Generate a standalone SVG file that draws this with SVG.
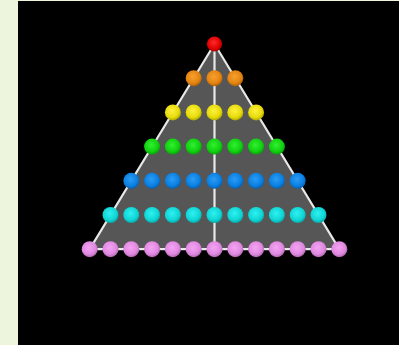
<svg xmlns="http://www.w3.org/2000/svg" width="399" height="345" viewBox="0 0 399 345">
<defs>
<radialGradient id="gR" cx="45%" cy="40%" r="60%"><stop offset="0" stop-color="#ff2a2a"/><stop offset="0.7" stop-color="#e00000"/><stop offset="1" stop-color="#a00000"/></radialGradient>
<radialGradient id="gO" cx="45%" cy="40%" r="60%"><stop offset="0" stop-color="#f8a030"/><stop offset="0.7" stop-color="#e48410"/><stop offset="1" stop-color="#b06008"/></radialGradient>
<radialGradient id="gY" cx="45%" cy="40%" r="60%"><stop offset="0" stop-color="#fff040"/><stop offset="0.7" stop-color="#e6dc0a"/><stop offset="1" stop-color="#b0a800"/></radialGradient>
<radialGradient id="gG" cx="45%" cy="40%" r="60%"><stop offset="0" stop-color="#30f030"/><stop offset="0.7" stop-color="#10d010"/><stop offset="1" stop-color="#08a008"/></radialGradient>
<radialGradient id="gB" cx="45%" cy="40%" r="60%"><stop offset="0" stop-color="#2c9cf4"/><stop offset="0.7" stop-color="#0a80e2"/><stop offset="1" stop-color="#0860b0"/></radialGradient>
<radialGradient id="gC" cx="45%" cy="40%" r="60%"><stop offset="0" stop-color="#30f0f0"/><stop offset="0.7" stop-color="#10d6d6"/><stop offset="1" stop-color="#08a8a8"/></radialGradient>
<radialGradient id="gP" cx="45%" cy="40%" r="60%"><stop offset="0" stop-color="#f4a4f4"/><stop offset="0.7" stop-color="#e088e0"/><stop offset="1" stop-color="#b068b0"/></radialGradient>
</defs>
<style>
.r0 circle{fill:url(#gR)}
.r1 circle{fill:url(#gO)}
.r2 circle{fill:url(#gY)}
.r3 circle{fill:url(#gG)}
.r4 circle{fill:url(#gB)}
.r5 circle{fill:url(#gC)}
.r6 circle{fill:url(#gP)}
.edge{stroke:#e8e8e8;stroke-width:2.2;fill:none}
</style>
<rect x="0" y="0" width="399" height="345" fill="#eef5dd"/>
<rect x="18" y="1" width="381" height="344" fill="#000"/>
<g id="connectors">
<polygon points="214.5,44 89.7,249.2 339.3,249.2" fill="#565656"/>
<polygon class="edge" points="214.5,44 89.7,249.2 339.3,249.2"/>
<line class="edge" x1="214.5" y1="44" x2="214.5" y2="249.2"/>
</g>
<g id="row0" class="r0"><circle cx="214.5" cy="44" r="7.6"/></g>
<g id="row1" class="r1">
<circle cx="193.7" cy="78.2" r="8"/><circle cx="214.5" cy="78.2" r="8"/><circle cx="235.3" cy="78.2" r="8"/>
</g>
<g id="row2" class="r2">
<circle cx="172.9" cy="112.4" r="8"/><circle cx="193.7" cy="112.4" r="8"/><circle cx="214.5" cy="112.4" r="8"/><circle cx="235.3" cy="112.4" r="8"/><circle cx="256.1" cy="112.4" r="8"/>
</g>
<g id="row3" class="r3">
<circle cx="152.1" cy="146.6" r="8"/><circle cx="172.9" cy="146.6" r="8"/><circle cx="193.7" cy="146.6" r="8"/><circle cx="214.5" cy="146.6" r="8"/><circle cx="235.3" cy="146.6" r="8"/><circle cx="256.1" cy="146.6" r="8"/><circle cx="276.9" cy="146.6" r="8"/>
</g>
<g id="row4" class="r4">
<circle cx="131.3" cy="180.8" r="8"/><circle cx="152.1" cy="180.8" r="8"/><circle cx="172.9" cy="180.8" r="8"/><circle cx="193.7" cy="180.8" r="8"/><circle cx="214.5" cy="180.8" r="8"/><circle cx="235.3" cy="180.8" r="8"/><circle cx="256.1" cy="180.8" r="8"/><circle cx="276.9" cy="180.8" r="8"/><circle cx="297.7" cy="180.8" r="8"/>
</g>
<g id="row5" class="r5">
<circle cx="110.5" cy="215" r="8"/><circle cx="131.3" cy="215" r="8"/><circle cx="152.1" cy="215" r="8"/><circle cx="172.9" cy="215" r="8"/><circle cx="193.7" cy="215" r="8"/><circle cx="214.5" cy="215" r="8"/><circle cx="235.3" cy="215" r="8"/><circle cx="256.1" cy="215" r="8"/><circle cx="276.9" cy="215" r="8"/><circle cx="297.7" cy="215" r="8"/><circle cx="318.5" cy="215" r="8"/>
</g>
<g id="row6" class="r6">
<circle cx="89.7" cy="249.2" r="8"/><circle cx="110.5" cy="249.2" r="8"/><circle cx="131.3" cy="249.2" r="8"/><circle cx="152.1" cy="249.2" r="8"/><circle cx="172.9" cy="249.2" r="8"/><circle cx="193.7" cy="249.2" r="8"/><circle cx="214.5" cy="249.2" r="8"/><circle cx="235.3" cy="249.2" r="8"/><circle cx="256.1" cy="249.2" r="8"/><circle cx="276.9" cy="249.2" r="8"/><circle cx="297.7" cy="249.2" r="8"/><circle cx="318.5" cy="249.2" r="8"/><circle cx="339.3" cy="249.2" r="8"/>
</g>
</svg>
